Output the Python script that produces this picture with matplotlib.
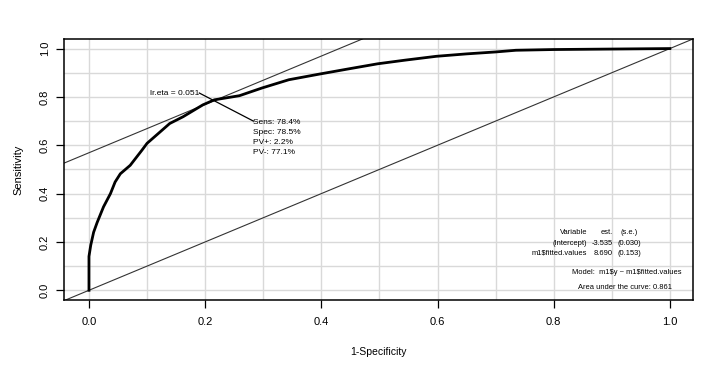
import matplotlib
matplotlib.use("Agg")
from matplotlib import pyplot as plt
import numpy as np

plt.rcParams['font.family'] = ['Liberation Sans', 'DejaVu Sans']

# ROC curve
fpr = [0, 0, 0.003, 0.008, 0.014, 0.025, 0.037, 0.045, 0.054, 0.071, 0.091,
       0.10, 0.12, 0.139, 0.162, 0.196, 0.216, 0.259, 0.298, 0.344, 0.398,
       0.447, 0.497, 0.544, 0.598, 0.65, 0.70, 0.735, 0.80, 0.90, 1.0]
sens = [0, 0.14, 0.186, 0.24, 0.28, 0.345, 0.40, 0.448, 0.482, 0.517, 0.579,
        0.608, 0.65, 0.69, 0.718, 0.767, 0.788, 0.805, 0.837, 0.871, 0.895,
        0.916, 0.937, 0.952, 0.968, 0.978, 0.986, 0.993, 0.996, 0.998, 1.0]

opt_fpr, opt_sens = 0.215, 0.784
opt_lines = ['Sens: 78.4%', 'Spec: 78.5%', 'PV+: 2.2%', 'PV-: 77.1%']

tab_var = ['Variable', '(Intercept)', r'm1\$fitted.values']
tab_est = ['est.', '-3.535', '8.690']
tab_se = ['(s.e.)', '(0.030)', '(0.153)']
model_txt = r'Model:  m1\$y ~ m1\$fitted.values'
auc_txt = 'Area under the curve: 0.861'

fig = plt.figure(figsize=(7.19, 3.74), dpi=100)
ax = fig.add_axes([0.089, 0.198, 0.875, 0.698])

ax.set_xlim(-0.043, 1.04)
ax.set_ylim(-0.04, 1.04)

ax.set_xticks(np.arange(0, 1.01, 0.1), minor=True)
ax.set_yticks(np.arange(0, 1.01, 0.1), minor=True)
ax.set_xticks(np.arange(0, 1.01, 0.2))
ax.set_yticks(np.arange(0, 1.01, 0.2))
ax.set_xticklabels(['0.0', '0.2', '0.4', '0.6', '0.8', '1.0'])
ax.set_yticklabels(['0.0', '0.2', '0.4', '0.6', '0.8', '1.0'], rotation=90, va='center')
ax.grid(True, which='both', color='#d9d9d9', lw=1)
ax.set_axisbelow(True)
ax.tick_params(which='minor', length=0)
ax.tick_params(which='major', length=6, width=0.9, labelsize=8, pad=6)
ax.tick_params(axis='y', pad=4)

for s in ax.spines.values():
    s.set_linewidth(1.1)

ax.axline((0, 0), slope=1, color='#333333', lw=0.8)
ax.axline((opt_fpr, opt_sens), slope=1, color='#333333', lw=0.8)

ax.plot(fpr, sens, color='black', lw=2.0)

# annotation of optimal cut-point
lab_x, lab_y = 0.19, 0.816
blk_x, blk_y = 0.283, 0.70
ax.plot([lab_x, blk_x], [lab_y, blk_y], color='black', lw=0.9)
ax.text(lab_x, lab_y, 'lr.eta = 0.051', ha='right', va='center', fontsize=6)
for i, t in enumerate(opt_lines):
    ax.text(blk_x, 0.694 - i * 0.0415, t, ha='left', va='center', fontsize=6)

# model table
for i in range(3):
    y = 0.237 - i * 0.042
    ax.text(0.858, y, tab_var[i], ha='right', va='center', fontsize=5.4)
    ax.text(0.902, y, tab_est[i], ha='right', va='center', fontsize=5.4)
    ax.text(0.930, y, tab_se[i], ha='center', va='center', fontsize=5.4)
ax.text(0.925, 0.075, model_txt, ha='center', va='center', fontsize=5.4)
ax.text(0.922, 0.012, auc_txt, ha='center', va='center', fontsize=5.4)

ax.set_xlabel('1-Specificity', fontsize=7.5, labelpad=15)
ax.set_ylabel('Sensitivity', fontsize=8, labelpad=12)

fig.savefig('out.png', dpi=100)
